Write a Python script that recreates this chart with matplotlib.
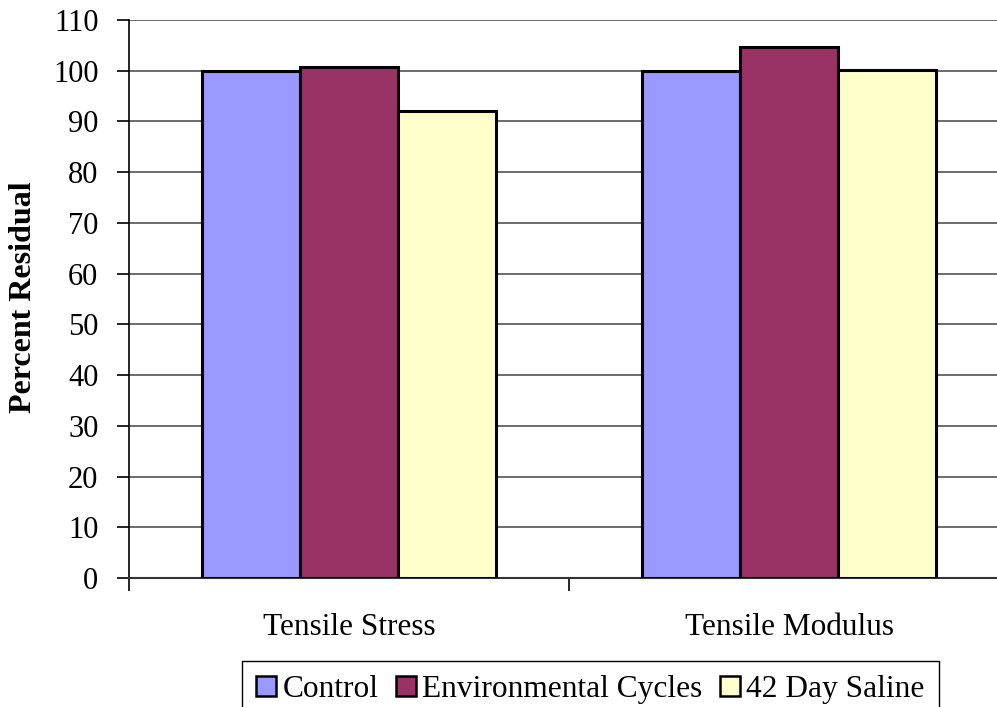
import matplotlib
matplotlib.use("Agg")
import matplotlib.pyplot as plt
import numpy as np

plt.rcParams['font.family'] = ['Liberation Serif', 'DejaVu Serif']

categories = ["Tensile Stress", "Tensile Modulus"]
series_names = ["Control", "Environmental Cycles", "42 Day Saline"]
control = [100.0, 100.0]
environmental = [100.7, 104.6]
saline = [92.0, 100.1]
colors = ["#9999FF", "#993366", "#FFFFCC"]
y_ticks = list(range(0, 111, 10))

W, H = 997, 707
fig = plt.figure(figsize=(W / 100, H / 100), dpi=100)
left_px, right_px, top_px, bottom_px = 129, 1009, 20, 578
ax = fig.add_axes([left_px / W, 1 - bottom_px / H,
                   (right_px - left_px) / W, (bottom_px - top_px) / H])

x = np.arange(len(categories))
width = 2 / 9
for i, (vals, name, col) in enumerate(zip([control, environmental, saline], series_names, colors)):
    ax.bar(x + (i - 1) * width, vals, width, color=col, edgecolor="black",
           linewidth=2.2, label=name, zorder=3)

ax.set_xlim(-0.5, 1.5)
ax.set_ylim(0, 110)
ax.set_yticks(y_ticks)
ax.set_yticklabels([str(t) for t in y_ticks], fontsize=22)
ax.yaxis.grid(True, color="#444444", linewidth=1.1, zorder=0)
ax.set_axisbelow(True)

# category ticks sit at the boundaries between groups
ax.set_xticks([-0.5, 0.5, 1.5])
ax.set_xticklabels([])
ax.set_xticks(x, minor=True)
ax.set_xticklabels(categories, minor=True, fontsize=22.5)
ax.tick_params(axis="x", which="minor", length=0, pad=25)
ax.tick_params(axis="x", which="major", length=9, width=1.2, direction="out")
ax.tick_params(axis="y", length=9, width=1.2, direction="out", pad=13)

for s in ["top", "right"]:
    ax.spines[s].set_visible(False)
ax.spines["left"].set_linewidth(1.2)
ax.spines["bottom"].set_linewidth(1.5)
ax.spines["bottom"].set_color("#333333")

fig.text(24 / W, 1 - 297 / H, "Percent Residual", rotation=90, fontsize=23,
         fontweight="bold", ha="center", va="center")

leg = ax.legend(ncol=3, loc="upper left", bbox_to_anchor=(242 / W, 1 - 661 / H),
                bbox_transform=fig.transFigure, fontsize=22.6, frameon=True,
                fancybox=False, edgecolor="black", framealpha=1,
                handlelength=0.64, handleheight=0.64, handletextpad=0.2,
                columnspacing=0.55, borderpad=0.45, borderaxespad=0)
leg.get_frame().set_linewidth(1.0)
for h in leg.legend_handles:
    h.set_linewidth(1.8)

fig.savefig("out.png", dpi=100)
